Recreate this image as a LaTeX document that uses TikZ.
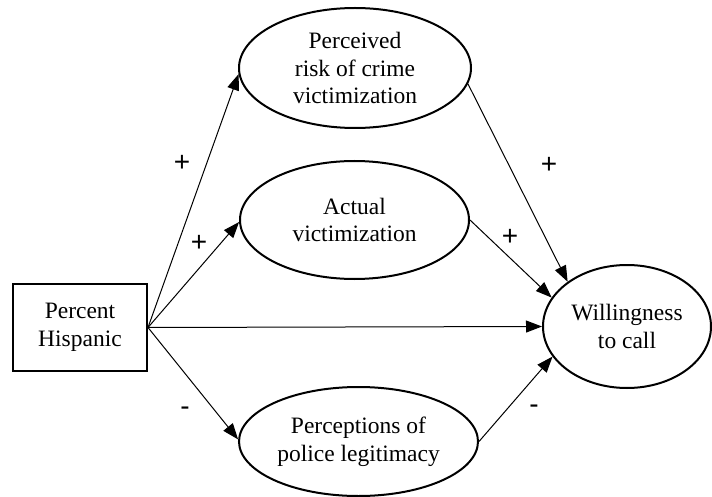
\documentclass[tikz,border=0pt]{standalone}
\usepackage{fontspec}
\setmainfont{Liberation Serif}
\newfontfamily\signfont{Liberation Sans}
\usetikzlibrary{arrows.meta,shapes.geometric}

\begin{document}
\begin{tikzpicture}[x=1pt,y=-1pt,
  construct/.style={ellipse,draw,line width=2pt,inner sep=0pt,align=center,
    font=\fontsize{23.5}{27.7}\selectfont},
  sourcebox/.style={rectangle,draw,line width=2pt,inner sep=0pt,align=center,
    font=\fontsize{23.5}{27.7}\selectfont},
  effect/.style={-{Triangle[length=16pt,width=12pt]},line width=1pt},
  sign/.style={font=\signfont\fontsize{28}{28}\selectfont,inner sep=0pt}]

\useasboundingbox (0,0) rectangle (712,497);

% constructs
\node[sourcebox,minimum width=134pt,minimum height=87pt] (ph) at (80,327.5) {Percent\\Hispanic};
\node[construct,minimum width=232pt,minimum height=120pt] (risk) at (355,68) {Perceived\\risk of crime\\victimization};
\node[construct,minimum width=229pt,minimum height=118pt] (act) at (354.5,220) {Actual\\victimization};
\node[construct,minimum width=239pt,minimum height=109pt] (legit) at (358.5,441.5) {Perceptions of\\police legitimacy};
\node[construct,minimum width=168pt,minimum height=123pt] (will) at (627,326.5) {Willingness\\to call};

% paths
\draw[effect] (ph.east) -- (risk.183);
\draw[effect] (ph.east) -- (act.181);
\draw[effect] (ph.east) -- (will.west);
\draw[effect] (ph.east) -- (legit.179);
\draw[effect] (risk.352) -- (will.143);
\draw[effect] (act.east) -- (will.159);
\draw[effect] (legit.east) -- (will.202);

% signs of the effects
\node[sign] (s1) at (182,163) {+};
\node[sign] (s2) at (199,243) {+};
\node[sign] (s3) at (185,411) {-};
\node[sign] (s4) at (549,165) {+};
\node[sign] (s5) at (510,237) {+};
\node[sign] (s6) at (534,409) {-};
\end{tikzpicture}
\end{document}
